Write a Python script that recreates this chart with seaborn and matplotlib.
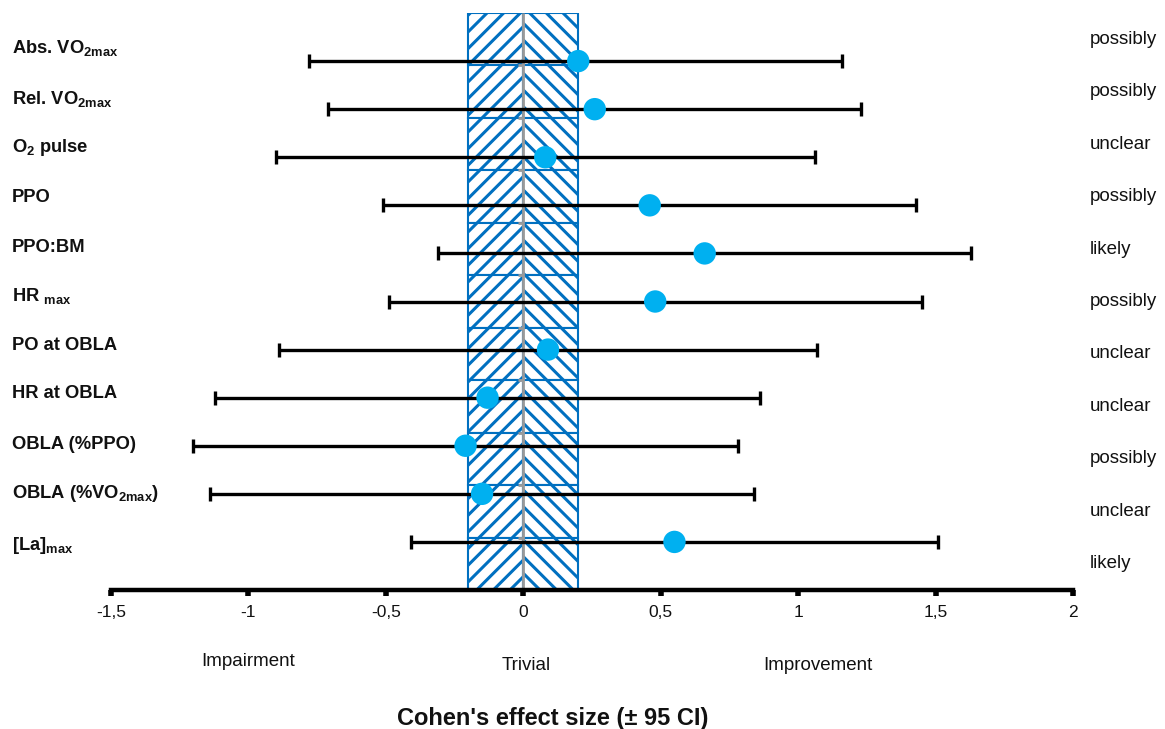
import numpy as np
import pandas as pd
import matplotlib
matplotlib.use("Agg")
import matplotlib.pyplot as plt
import seaborn as sns

# --- data -------------------------------------------------------------
variables = ["Abs. VO2max", "Rel. VO2max", "O2 pulse", "PPO", "PPO:BM", "HR max",
             "PO at OBLA", "HR at OBLA", "OBLA (%PPO)", "OBLA (%VO2max)", "[La]max"]
display_labels = [r"Abs. VO$_\mathbf{2max}$", r"Rel. VO$_\mathbf{2max}$", r"O$_\mathbf{2}$ pulse",
                  "PPO", "PPO:BM", r"HR $_\mathbf{max}$", "PO at OBLA", "HR at OBLA",
                  "OBLA (%PPO)", r"OBLA (%VO$_\mathbf{2max}$)", r"[La]$_\mathbf{max}$"]
effect = [0.20, 0.26, 0.08, 0.46, 0.66, 0.48, 0.09, -0.13, -0.21, -0.15, 0.55]
ci_low = [-0.78, -0.71, -0.90, -0.51, -0.31, -0.49, -0.89, -1.12, -1.20, -1.14, -0.41]
ci_high = [1.16, 1.23, 1.06, 1.43, 1.63, 1.45, 1.07, 0.86, 0.78, 0.84, 1.51]
inference = ["possibly", "possibly", "unclear", "possibly", "likely", "possibly",
             "unclear", "unclear", "possibly", "unclear", "likely"]
trivial_bound = 0.2
x_ticks = [-1.5, -1, -0.5, 0, 0.5, 1, 1.5, 2]
x_ticklabels = ["-1,5", "-1", "-0,5", "0", "0,5", "1", "1,5", "2"]
region_labels = ["Impairment", "Trivial", "Improvement"]

# --- style ------------------------------------------------------------
sns.set_theme(style="white")
plt.rcParams["font.family"] = ["Liberation Sans", "DejaVu Sans"]
plt.rcParams["mathtext.fontset"] = "custom"
plt.rcParams["mathtext.rm"] = "Liberation Sans"
plt.rcParams["mathtext.bf"] = "Liberation Sans:bold"
plt.rcParams["hatch.linewidth"] = 2.2

W, H = 1165, 729
fig = plt.figure(figsize=(W / 100, H / 100), dpi=100)
left_px, right_px, top_px, bottom_px = 111, 1073, 13, 590
ax = fig.add_axes([left_px / W, 1 - bottom_px / H,
                   (right_px - left_px) / W, (bottom_px - top_px) / H])

n = len(variables)
blue = "#0070C0"

# trivial zone: stacked hatched blocks, one per outcome
box = ax.twinx()
box.set_ylim(n, 0)
for i in range(n):
    box.barh(i + 0.5, trivial_bound, left=-trivial_bound, height=1.0,
             color="white", edgecolor=blue, hatch="//", linewidth=1.5, zorder=1)
    box.barh(i + 0.5, trivial_bound, left=0, height=1.0,
             color="white", edgecolor=blue, hatch="\\\\", linewidth=1.5, zorder=1)
box.vlines(0, 0, n, color="#9a9a9a", linewidth=2, zorder=2)
box.hlines(np.arange(1, n + 1), -0.018, 0, color="#9a9a9a", linewidth=2, zorder=2)
box.axis("off")

# effects and confidence intervals on the main axis (scale 0..n+1)
df = pd.DataFrame({"variable": variables, "effect": effect,
                   "low": ci_low, "high": ci_high,
                   "pos": np.arange(1, n + 1)})
ax.set_zorder(box.get_zorder() + 1)
ax.patch.set_visible(False)
ax.errorbar(df["effect"], df["pos"],
            xerr=[df["effect"] - df["low"], df["high"] - df["effect"]],
            fmt="none", ecolor="black", elinewidth=2.4, capsize=5, capthick=2.4,
            zorder=3)
sns.scatterplot(data=df, x="effect", y="pos", s=260, color="#00B0F0",
                edgecolor="none", ax=ax, zorder=4, legend=False)

ax.set_xlim(-1.5, 2)
ax.set_ylim(n + 1, 0)
ax.set_xticks(x_ticks)
ax.set_xticklabels(x_ticklabels, fontsize=12.5, color="#111111")
ax.set_yticks([])
ax.set_xlabel("")
ax.set_ylabel("")
for s in ["top", "right", "left"]:
    ax.spines[s].set_visible(False)
ax.spines["bottom"].set_linewidth(3.2)
ax.spines["bottom"].set_color("black")
ax.tick_params(axis="x", direction="out", length=4, width=4, color="black", pad=7,
               bottom=True)

# outcome names on the left
label_y = [48, 99, 148, 198, 247, 296, 346, 394, 445, 494, 545]
for lbl, y in zip(display_labels, label_y):
    fig.text(12 / W, 1 - y / H, lbl, fontsize=13.2, fontweight="bold",
             ha="left", va="center", color="#111111")

# qualitative inference on the right
for i, txt in enumerate(inference):
    y = top_px + (i + 0.5) * (bottom_px - top_px) / n
    fig.text(1090 / W, 1 - y / H, txt, fontsize=13.5, ha="left", va="center",
             color="#111111")

# region captions and axis title
for txt, x, y in zip(region_labels, [248, 526, 818], [662, 665, 665]):
    fig.text(x / W, 1 - y / H, txt, fontsize=13.5, ha="center", va="center",
             color="#111111")
fig.text(553 / W, 1 - 718 / H, "Cohen's effect size (± 95 CI)", fontsize=17,
         fontweight="bold", ha="center", va="center", color="#111111")

fig.savefig("out.png", dpi=100, facecolor="white")
